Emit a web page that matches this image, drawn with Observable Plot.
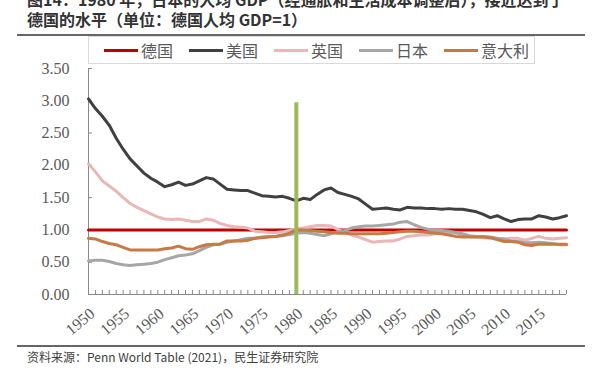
<!DOCTYPE html>
<html><head><meta charset="utf-8">
<script src="https://cdn.jsdelivr.net/npm/d3@7"></script>
<script src="https://cdn.jsdelivr.net/npm/@observablehq/plot@0.6"></script>
<style>
html,body{margin:0;padding:0;background:#fff;}
#wrap{position:relative;width:603px;height:373px;overflow:hidden;background:#fff;}
#title{position:absolute;left:27px;top:-11px;font-family:"Noto Sans CJK SC";font-weight:bold;font-size:16px;line-height:20px;color:#333;white-space:nowrap;}
.hr{position:absolute;left:17px;width:568px;height:2px;background:#666;}
#chart{position:absolute;left:0;top:0;}
#legend{position:absolute;left:88px;top:36px;width:445px;height:26px;border:1px solid #d9d9d9;box-sizing:content-box;display:flex;align-items:center;font-family:"Noto Sans CJK SC";font-size:16px;color:#595959;background:#fff;white-space:nowrap;}
.item{display:flex;align-items:center;margin-left:15px;margin-right:1px;flex-shrink:0;white-space:nowrap;}
.sw{width:34px;height:3px;margin-right:3px;flex-shrink:0;}
#caption{position:absolute;left:27px;top:348px;font-family:"Noto Sans CJK SC";font-size:12px;color:#404040;white-space:nowrap;}
</style></head>
<body>
<div id="wrap">
  <div id="title">图14：1980 年，日本的人均 GDP（经通胀和生活成本调整后），接近达到了<br>德国的水平（单位：德国人均 GDP=1）</div>
  <div class="hr" style="top:34px"></div>
  <div id="chart"></div>
  <div id="legend"></div>
  <div class="hr" style="top:345px"></div>
  <div id="caption">资料来源：Penn World Table (2021)，民生证券研究院</div>
</div>
<script>
const years = d3.range(1950, 2020);
const seriesNames = ["德国", "美国", "英国", "日本", "意大利"];
const seriesColors = ["#c00000", "#404040", "#e8b7b6", "#a6a6a6", "#c77a45"];
const germany = years.map(() => 1.00);
const usa = [3.03,2.88,2.76,2.62,2.42,2.25,2.10,1.99,1.88,1.80,
1.74,1.67,1.70,1.74,1.69,1.71,1.76,1.81,1.79,1.71,
1.63,1.62,1.61,1.61,1.57,1.53,1.52,1.51,1.52,1.49,
1.45,1.49,1.47,1.55,1.62,1.65,1.58,1.55,1.52,1.48,
1.40,1.32,1.33,1.34,1.32,1.31,1.35,1.34,1.34,1.33,
1.33,1.32,1.33,1.32,1.32,1.30,1.28,1.24,1.19,1.22,
1.17,1.13,1.16,1.17,1.17,1.22,1.20,1.17,1.19,1.22];
const uk = [2.02,1.90,1.76,1.68,1.60,1.50,1.41,1.35,1.30,1.25,
1.20,1.17,1.16,1.17,1.15,1.13,1.13,1.17,1.15,1.10,
1.07,1.05,1.04,1.03,0.98,0.97,0.96,0.96,0.97,0.99,
1.02,1.03,1.05,1.07,1.07,1.06,1.01,0.96,0.92,0.89,
0.85,0.81,0.82,0.83,0.83,0.86,0.90,0.91,0.92,0.92,
0.94,0.96,0.96,0.95,0.92,0.90,0.89,0.88,0.87,0.86,
0.86,0.87,0.87,0.84,0.87,0.90,0.87,0.86,0.87,0.88];
const japan = [0.52,0.53,0.53,0.51,0.48,0.46,0.45,0.46,0.47,0.48,
0.50,0.54,0.57,0.60,0.61,0.63,0.68,0.73,0.77,0.78,
0.81,0.83,0.85,0.87,0.87,0.89,0.90,0.90,0.91,0.93,
0.95,0.96,0.95,0.93,0.91,0.94,0.97,0.99,1.03,1.05,
1.06,1.06,1.07,1.08,1.09,1.12,1.13,1.08,1.04,1.01,
1.00,0.99,0.98,0.96,0.94,0.91,0.90,0.90,0.89,0.87,
0.86,0.83,0.82,0.80,0.80,0.81,0.80,0.79,0.77,0.77];
const italy = [0.87,0.86,0.82,0.79,0.77,0.73,0.69,0.69,0.69,0.69,
0.69,0.71,0.72,0.75,0.71,0.70,0.74,0.77,0.78,0.78,
0.83,0.83,0.83,0.84,0.87,0.88,0.89,0.90,0.92,0.95,
1.00,1.00,0.99,0.98,0.97,0.96,0.95,0.95,0.94,0.94,
0.94,0.94,0.94,0.95,0.96,0.97,0.98,0.98,0.97,0.96,
0.95,0.94,0.92,0.90,0.89,0.89,0.89,0.89,0.88,0.85,
0.82,0.82,0.81,0.77,0.76,0.78,0.78,0.78,0.78,0.78];
const markerYear = [1980];
const markerTop = 2.97;
const yTicks = [0, 0.5, 1, 1.5, 2, 2.5, 3, 3.5];
const xLabelYears = [1950,1955,1960,1965,1970,1975,1980,1985,1990,1995,2000,2005,2010,2015];

const allValues = [germany, usa, uk, japan, italy];
const rows = [];
seriesNames.forEach((name, s) => years.forEach((yr, i) => rows.push({name, year: yr, value: allValues[s][i]})));

const W = 603, H = 373, mL = 88, mR = 37, mT = 68, mB = 79;
const pxPerYear = (W - mL - mR) / (years[years.length-1] - years[0]);
const pxPerUnit = (H - mT - mB) / 3.5;
const tickLen = 4;

const axisColor = "#898989";
const plot = Plot.plot({
  width: W, height: H,
  marginLeft: mL, marginRight: mR, marginTop: mT, marginBottom: mB,
  style: {background: "transparent", color: "#595959", overflow: "visible"},
  x: {domain: [1950, 2019], axis: null},
  y: {domain: [0, 3.5], axis: null},
  color: {domain: seriesNames, range: seriesColors},
  marks: [
    Plot.ruleY([0], {x1: 1950, x2: 2019, stroke: axisColor, strokeWidth: 1}),
    Plot.ruleX([1950], {y1: 0, y2: 3.5, stroke: axisColor, strokeWidth: 1}),
    Plot.ruleX(years, {x: d => d, y1: 0, y2: tickLen / pxPerUnit, stroke: axisColor, strokeWidth: 1}),
    Plot.ruleY(yTicks, {y: d => d, x1: 1950, x2: 1950 + tickLen / pxPerYear, stroke: axisColor, strokeWidth: 1}),
    Plot.axisY({ticks: yTicks, tickSize: 0, tickPadding: 19, tickFormat: d => d.toFixed(2), label: null,
      fontSize: 16, fontFamily: "Liberation Serif", fill: "#595959"}),
    Plot.axisX({ticks: xLabelYears, tickSize: 0, tickPadding: 17, tickRotate: -40, tickFormat: d => String(d), label: null,
      fontSize: 16, fontFamily: "Liberation Serif", fill: "#595959", dx: 4}),
    Plot.line(rows, {x: "year", y: "value", z: "name", stroke: "name", strokeWidth: 3, strokeLinejoin: "round", strokeLinecap: "round"}),
    Plot.ruleX(markerYear, {x: d => d, y1: 0, y2: markerTop, stroke: "#9bbb59", strokeWidth: 4})
  ]
});
document.getElementById("chart").appendChild(plot);

const legend = document.getElementById("legend");
seriesNames.forEach((name, i) => {
  const it = document.createElement("div");
  it.className = "item";
  const sw = document.createElement("div");
  sw.className = "sw";
  sw.style.background = seriesColors[i];
  const tx = document.createElement("span");
  tx.textContent = name;
  it.appendChild(sw); it.appendChild(tx);
  legend.appendChild(it);
});
</script>
</body></html>
